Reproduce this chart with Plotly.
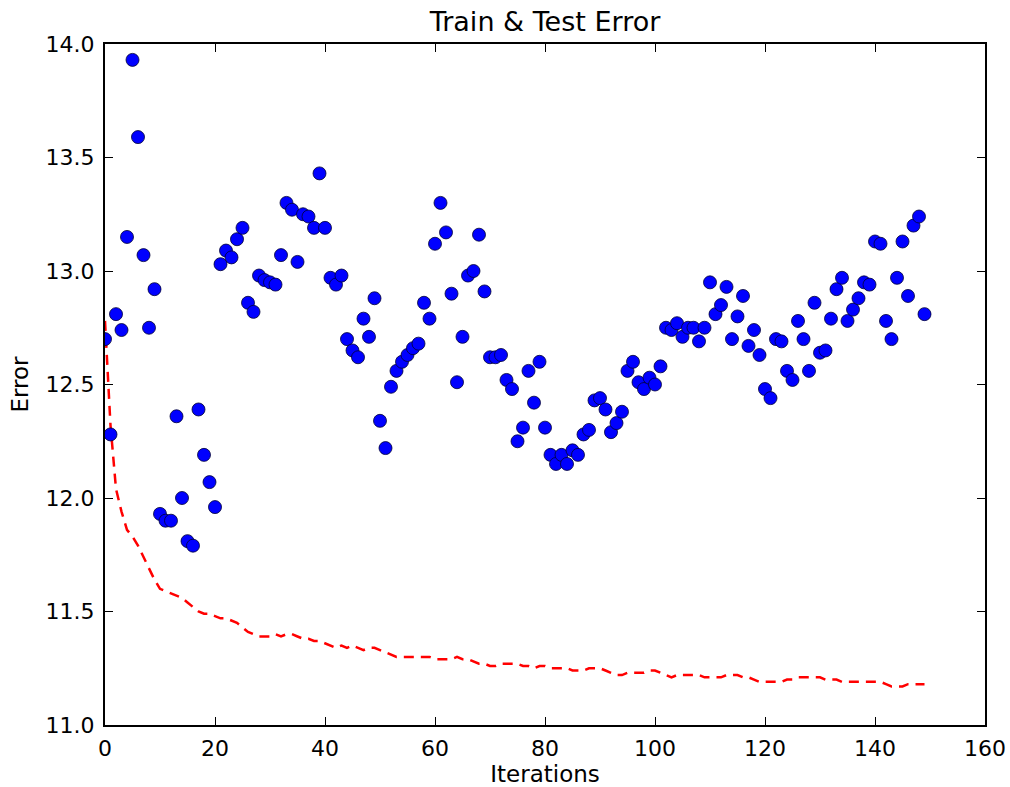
import plotly.graph_objects as go

iterations = list(range(150))

test_error = [
    12.70, 12.28, 12.81, 12.74, 13.15, 13.93, 13.59, 13.07, 12.75, 12.92,
    11.93, 11.90, 11.90, 12.36, 12.00, 11.81, 11.79, 12.39, 12.19, 12.07,
    11.96, 13.03, 13.09, 13.06, 13.14, 13.19, 12.86, 12.82, 12.98, 12.96,
    12.95, 12.94, 13.07, 13.30, 13.27, 13.04, 13.25, 13.24, 13.19, 13.43,
    13.19, 12.97, 12.94, 12.98, 12.70, 12.65, 12.62, 12.79, 12.71, 12.88,
    12.34, 12.22, 12.49, 12.56, 12.60, 12.63, 12.66, 12.68, 12.86, 12.79,
    13.12, 13.30, 13.17, 12.90, 12.51, 12.71, 12.98, 13.00, 13.16, 12.91,
    12.62, 12.62, 12.63, 12.52, 12.48, 12.25, 12.31, 12.56, 12.42, 12.60,
    12.31, 12.19, 12.15, 12.19, 12.15, 12.21, 12.19, 12.28, 12.30, 12.43,
    12.44, 12.39, 12.29, 12.33, 12.38, 12.56, 12.60, 12.51, 12.48, 12.53,
    12.50, 12.58, 12.75, 12.74, 12.77, 12.71, 12.75, 12.75, 12.69, 12.75,
    12.95, 12.81, 12.85, 12.93, 12.70, 12.80, 12.89, 12.67, 12.74, 12.63,
    12.48, 12.44, 12.70, 12.69, 12.56, 12.52, 12.78, 12.70, 12.56, 12.86,
    12.64, 12.65, 12.79, 12.92, 12.97, 12.78, 12.83, 12.88, 12.95, 12.94,
    13.13, 13.12, 12.78, 12.70, 12.97, 13.13, 12.89, 13.20, 13.24, 12.81,
]

train_error = [
    12.78, 12.32, 12.04, 11.94, 11.86, 11.83, 11.79, 11.74, 11.69, 11.64,
    11.60, 11.59, 11.58, 11.57, 11.56, 11.54, 11.52, 11.50, 11.49, 11.49,
    11.48, 11.47, 11.47, 11.46, 11.45, 11.43, 11.41, 11.40, 11.39, 11.39,
    11.39, 11.40, 11.39, 11.40, 11.40, 11.39, 11.38, 11.38, 11.37, 11.37,
    11.36, 11.35, 11.34, 11.35, 11.34, 11.35, 11.34, 11.33, 11.34, 11.34,
    11.33, 11.32, 11.31, 11.30, 11.30, 11.30, 11.30, 11.30, 11.30, 11.30,
    11.29, 11.29, 11.29, 11.29, 11.30, 11.29, 11.29, 11.28, 11.27, 11.27,
    11.26, 11.26, 11.27, 11.27, 11.27, 11.27, 11.26, 11.26, 11.25, 11.26,
    11.26, 11.25, 11.25, 11.25, 11.25, 11.24, 11.24, 11.24, 11.25, 11.25,
    11.25, 11.24, 11.23, 11.22, 11.22, 11.23, 11.23, 11.23, 11.23, 11.24,
    11.24, 11.23, 11.22, 11.21, 11.22, 11.22, 11.22, 11.22, 11.22, 11.21,
    11.21, 11.21, 11.21, 11.22, 11.22, 11.22, 11.21, 11.21, 11.20, 11.19,
    11.19, 11.19, 11.19, 11.19, 11.20, 11.20, 11.21, 11.21, 11.21, 11.21,
    11.21, 11.20, 11.20, 11.20, 11.19, 11.19, 11.19, 11.19, 11.19, 11.19,
    11.19, 11.19, 11.18, 11.17, 11.17, 11.17, 11.18, 11.18, 11.18, 11.18,
]

x_ticks = [0, 20, 40, 60, 80, 100, 120, 140, 160]
y_ticks = [11.0, 11.5, 12.0, 12.5, 13.0, 13.5, 14.0]

FONT = "DejaVu Sans"

fig = go.Figure()
fig.add_trace(go.Scatter(
    x=iterations, y=train_error, mode="lines",
    line=dict(color="#ff0000", width=2.5, dash="10px,7px"),
    showlegend=False, hoverinfo="skip",
))
fig.add_trace(go.Scatter(
    x=iterations, y=test_error, mode="markers",
    marker=dict(color="#0000ff", size=13, line=dict(color="#000033", width=0.8)),
    showlegend=False,
))

axis_common = dict(
    showgrid=False, zeroline=False, automargin=False,
    showline=True, linecolor="black", linewidth=2.2, mirror="ticks",
    ticks="inside", ticklen=8, tickwidth=1.2, tickcolor="black",
    tickfont=dict(family=FONT, size=22, color="black"),
)

fig.update_layout(
    width=1010, height=787,
    margin=dict(l=105, r=25, t=44, b=62),
    paper_bgcolor="white", plot_bgcolor="white",
    title=dict(text="Train & Test Error", x=0.5, xanchor="center",
               xref="paper", yref="container", y=1 - 22 / 787, yanchor="middle",
               font=dict(family=FONT, size=27, color="black"),
               automargin=False),
    xaxis=dict(range=[0, 160], tickvals=x_ticks, ticklabelstandoff=2,
               title=dict(text="Iterations", font=dict(family=FONT, size=23, color="black"), standoff=6),
               **axis_common),
    yaxis=dict(range=[11.0, 14.0], tickvals=y_ticks, tickformat=".1f", ticklabelstandoff=4,
               title=dict(text="Error", font=dict(family=FONT, size=23, color="black"), standoff=10),
               **axis_common),
)

fig.write_html("out.html",
               config={"displayModeBar": False},
               post_script="document.body.style.margin='0';document.body.style.overflow='hidden';")
